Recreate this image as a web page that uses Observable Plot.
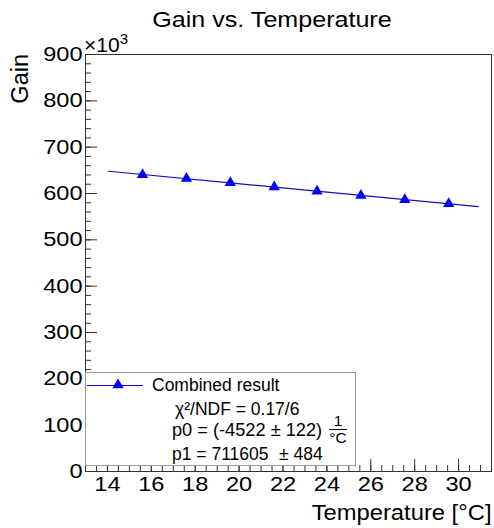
<!DOCTYPE html>
<html><head><meta charset="utf-8">
<script src="https://cdn.jsdelivr.net/npm/d3@7"></script>
<script src="https://cdn.jsdelivr.net/npm/@observablehq/plot@0.6"></script>
<style>html,body{margin:0;padding:0;background:#fff} svg{display:block;overflow:visible}</style>
</head><body><div id="chart"></div>
<script>
// ---- data ----
const temperatures = [15.6, 17.6, 19.6, 21.6, 23.55, 25.55, 27.55, 29.55];
const gains = [640600, 632200, 623000, 613900, 604800, 595700, 586600, 577800];
const fitTemperatures = [14.05, 30.9];
const fitGains = [648070, 571870];
const xMajorTicks = [14, 16, 18, 20, 22, 24, 26, 28, 30];
const xMinorTicks = d3.range(13, 31.51, 0.5);
const yMajorTicks = [0, 100000, 200000, 300000, 400000, 500000, 600000, 700000, 800000, 900000];
const yMinorTicks = d3.range(0, 900001, 20000);
const titleText = "Gain vs. Temperature";
const xLabel = "Temperature [\u00B0C]";
const yLabel = "Gain";
const legendLabel = "Combined result";
const fitLines = ["\u03C7\u00B2/NDF = 0.17/6", "p0 = (-4522 \u00B1 122)", "p1 = 711605", "\u00B1 484"];

// ---- layout ----
const W = 494, H = 528, ML = 85, MR = 3, MT = 54, MB = 57;
const FW = W - ML - MR, FH = H - MT - MB;
const FONT = "'Liberation Sans', Arial, Helvetica, sans-serif";
const AX = "#333";

const points = temperatures.map((t, i) => ({t, g: gains[i]}));
const fitLine = fitTemperatures.map((t, i) => ({t, g: fitGains[i]}));

const plot = Plot.plot({
  width: W, height: H,
  marginLeft: ML, marginRight: MR, marginTop: MT, marginBottom: MB,
  style: {fontFamily: FONT, background: "#fff", overflow: "visible"},
  x: {domain: [13, 31.5], axis: null},
  y: {domain: [0, 900000], axis: null},
  marks: [
    Plot.tickY(yMinorTicks, {y: d => d, insetRight: FW - 6, stroke: AX}),
    Plot.tickY(yMajorTicks, {y: d => d, insetRight: FW - 12, stroke: AX}),
    Plot.tickX(xMinorTicks, {x: d => d, insetTop: FH - 6, stroke: AX}),
    Plot.tickX(xMajorTicks, {x: d => d, insetTop: FH - 12, stroke: AX}),
    Plot.axisY(yMajorTicks, {anchor: "left", tickSize: 0, tickPadding: 3, tickFormat: d => d / 1000, fontSize: 20.5, label: null, className: "ylab"}),
    Plot.axisX(xMajorTicks, {anchor: "bottom", tickSize: 0, tickPadding: 5, tickFormat: d => d, fontSize: 20.5, label: null, className: "xlab"}),
    Plot.frame({stroke: AX}),
    Plot.line(fitLine, {x: "t", y: "g", stroke: "#1010b8", strokeWidth: 1.2}),
    Plot.dot(points, {x: "t", y: "g", symbol: "triangle", fill: "#0000ff", r: 4.2})
  ]
});
document.getElementById("chart").appendChild(plot);

const svg = d3.select(plot);
const g = svg.append("g").attr("font-family", FONT).attr("fill", "#000").attr("text-anchor", "start");

g.append("text").attr("class", "title").attr("x", 272).attr("y", 27).attr("text-anchor", "middle")
  .attr("font-size", 22).text(titleText);

const mult = g.append("text").attr("x", 84).attr("y", 51.5).attr("font-size", 21);
mult.append("tspan").text("\u00D710");
mult.append("tspan").attr("font-size", 15).attr("dy", -8).text("3");

g.append("text").attr("transform", "translate(28,54) rotate(-90)").attr("text-anchor", "end")
  .attr("font-size", 23.5).text(yLabel);

g.append("text").attr("class", "xtitle").attr("x", 491.5).attr("y", 520).attr("text-anchor", "end")
  .attr("font-size", 22).text(xLabel);

// legend
const lg = g.append("g");
lg.append("rect").attr("x", 85.5).attr("y", 372.5).attr("width", 270).attr("height", 93)
  .attr("fill", "#fff").attr("stroke", "#999");
lg.append("line").attr("x1", 87).attr("x2", 143).attr("y1", 385.5).attr("y2", 385.5)
  .attr("stroke", "#0000ff").attr("stroke-width", 1.2);
lg.append("path").attr("d", d3.symbol(d3.symbolTriangle, 55)()).attr("transform", "translate(118,385)").attr("fill", "#0000ff");
lg.append("text").attr("x", 152).attr("y", 391).attr("font-size", 17.5).text(legendLabel);
lg.append("text").attr("x", 175).attr("y", 415).attr("font-size", 17.5).text(fitLines[0]);
lg.append("text").attr("class", "p0").attr("x", 172).attr("y", 436).attr("font-size", 17.5).text(fitLines[1]);
lg.append("text").attr("x", 338).attr("y", 426).attr("text-anchor", "middle").attr("font-size", 15.5).text("1");
lg.append("line").attr("x1", 329).attr("x2", 347).attr("y1", 429.5).attr("y2", 429.5).attr("stroke", "#000");
lg.append("text").attr("x", 338).attr("y", 443).attr("text-anchor", "middle").attr("font-size", 15.5).text("\u00B0C");
lg.append("text").attr("x", 172).attr("y", 460).attr("font-size", 17.5).text(fitLines[2]);
lg.append("text").attr("x", 279).attr("y", 460).attr("font-size", 17.5).text(fitLines[3]);

// horizontal stretch to mimic the wider ROOT rendering
function stretch(sel, f) {
  sel.each(function () {
    const w = this.getComputedTextLength();
    if (w > 0) { this.setAttribute("textLength", w * f); this.setAttribute("lengthAdjust", "spacingAndGlyphs"); }
  });
}
stretch(svg.selectAll(".ylab text, .xlab text"), 1.15);
stretch(svg.selectAll("text.title"), 1.14);
stretch(svg.selectAll("text.xtitle"), 1.08);
stretch(svg.selectAll("text.p0"), 1.04);
</script>
</body></html>
